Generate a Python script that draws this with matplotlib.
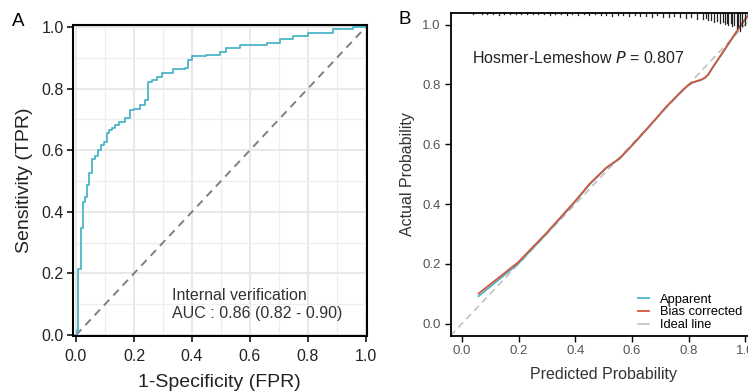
import matplotlib
matplotlib.use("Agg")
import matplotlib.pyplot as plt
from matplotlib.ticker import MultipleLocator

plt.rcParams['font.family'] = ['Liberation Sans', 'DejaVu Sans']

# ROC curve (panel A), step corners: fpr where tpr jumps, tpr after the jump
roc_fpr = [0.0, 0.002, 0.008, 0.017, 0.025, 0.031, 0.039, 0.046, 0.056, 0.066,
           0.075, 0.085, 0.097, 0.106, 0.115, 0.124, 0.134, 0.150, 0.169, 0.186,
           0.200, 0.220, 0.238, 0.249, 0.262, 0.278, 0.295, 0.335, 0.376, 0.387,
           0.399, 0.450, 0.497, 0.519, 0.566, 0.657, 0.703, 0.749, 0.801, 0.887,
           0.955, 1.0]
roc_tpr = [0.0, 0.016, 0.213, 0.347, 0.433, 0.449, 0.487, 0.525, 0.570, 0.581,
           0.600, 0.617, 0.628, 0.655, 0.665, 0.672, 0.680, 0.690, 0.703, 0.730,
           0.735, 0.745, 0.763, 0.822, 0.828, 0.836, 0.850, 0.862, 0.868, 0.893,
           0.906, 0.910, 0.920, 0.933, 0.942, 0.947, 0.960, 0.970, 0.981, 0.992,
           1.0, 1.0]
auc_text = "Internal verification\nAUC : 0.86 (0.82 - 0.90)"

# Calibration curves (panel B)
pred_bc = [0.059, 0.198, 0.298, 0.398, 0.451, 0.510, 0.557, 0.604, 0.663, 0.721,
           0.780, 0.798, 0.812, 0.827, 0.842, 0.857, 0.870, 0.885, 0.910, 0.945,
           0.980, 1.020]
act_bc = [0.101, 0.205, 0.303, 0.408, 0.468, 0.522, 0.553, 0.600, 0.662, 0.725,
          0.782, 0.797, 0.806, 0.811, 0.815, 0.822, 0.834, 0.857, 0.892, 0.942,
          0.992, 1.045]
pred_app = [0.059, 0.198, 0.298, 0.398, 0.451, 0.510, 0.557, 0.604, 0.663, 0.721,
            0.780, 0.798, 0.812, 0.827, 0.842, 0.857, 0.870, 0.885, 0.910, 0.945,
            0.980, 1.020]
act_app = [0.092, 0.200, 0.300, 0.406, 0.466, 0.521, 0.552, 0.599, 0.661, 0.724,
           0.781, 0.796, 0.805, 0.810, 0.814, 0.821, 0.833, 0.856, 0.891, 0.941,
           0.991, 1.044]
hl_p = 0.807

# rug of predicted probabilities along the top (position, spike length)
rug_x = [0.04, 0.07, 0.09, 0.11, 0.13, 0.15, 0.17, 0.19, 0.21, 0.23, 0.25, 0.27,
         0.29, 0.31, 0.33, 0.35, 0.37, 0.39, 0.41, 0.43, 0.45, 0.47, 0.49, 0.51,
         0.53, 0.55, 0.57, 0.59, 0.61, 0.63, 0.65, 0.67, 0.69, 0.71, 0.73, 0.75,
         0.77, 0.79, 0.81, 0.83, 0.85, 0.86, 0.87, 0.88, 0.89, 0.90, 0.91, 0.92,
         0.93, 0.935, 0.94, 0.95, 0.955, 0.96, 0.97, 0.975, 0.98, 0.99, 1.00, 1.01]
rug_len = [0.004, 0.004, 0.005, 0.004, 0.008, 0.004, 0.005, 0.004, 0.006, 0.004,
           0.005, 0.006, 0.004, 0.007, 0.005, 0.006, 0.008, 0.005, 0.007, 0.006,
           0.009, 0.006, 0.008, 0.007, 0.010, 0.008, 0.009, 0.011, 0.008, 0.012,
           0.010, 0.014, 0.009, 0.013, 0.015, 0.012, 0.016, 0.018, 0.014, 0.020,
           0.022, 0.018, 0.026, 0.024, 0.030, 0.028, 0.034, 0.030, 0.038, 0.033,
           0.042, 0.036, 0.045, 0.040, 0.052, 0.046, 0.060, 0.045, 0.040, 0.030]

ticks = [0.0, 0.2, 0.4, 0.6, 0.8, 1.0]
tick_labels = ["0.0", "0.2", "0.4", "0.6", "0.8", "1.0"]

teal = '#4BB4C8'
red = '#D4563E'

fig = plt.figure(figsize=(7.48, 3.92), dpi=100)

# ---------------- panel A: ROC ----------------
ax1 = fig.add_axes([0.0976, 0.1436, 0.3926, 0.7926])
ax1.set_xlim(-0.0103, 1.0024)
ax1.set_ylim(-0.002, 1.006)
ax1.xaxis.set_minor_locator(MultipleLocator(0.1))
ax1.yaxis.set_minor_locator(MultipleLocator(0.1))
ax1.grid(which='major', color='#E6E6E6', lw=1.3)
ax1.grid(which='minor', color='#EEEEEE', lw=0.9)
ax1.set_axisbelow(True)
ax1.plot([0, 1], [0, 1], color='#7F7F7F', lw=1.4, ls=(0, (4, 3)))
ax1.plot(roc_fpr, roc_tpr, drawstyle='steps-post', color=teal, lw=1.3)
ax1.set_xticks(ticks)
ax1.set_xticklabels(tick_labels)
ax1.set_yticks(ticks)
ax1.set_yticklabels(tick_labels)
ax1.tick_params(which='major', length=4.5, width=1.1, labelsize=11.5,
                labelcolor='#222222', pad=2)
ax1.tick_params(axis='x', which='major', pad=5)
ax1.tick_params(which='minor', length=0)
for s in ax1.spines.values():
    s.set_linewidth(1.5)
ax1.set_xlabel("1-Specificity (FPR)", fontsize=14, color='#222222', labelpad=7)
ax1.set_ylabel("Sensitivity (TPR)", fontsize=14, color='#222222', labelpad=6)
ax1.text(0.33, 0.10, auc_text, fontsize=11.5, color='#333333',
         va='center', ha='left', linespacing=1.25)
fig.text(0.016, 0.945, "A", fontsize=13.5, va='center', ha='left')

# ---------------- panel B: calibration ----------------
ax2 = fig.add_axes([0.6023, 0.1436, 0.4091, 0.824])
ax2.set_xlim(-0.04, 1.04)
ax2.set_ylim(-0.04, 1.04)
ax2.plot([-0.04, 1.04], [-0.04, 1.04], color='#BDBDBD', lw=1.1,
         ls=(0, (4.5, 3)), label='_ideal')
ax2.plot(pred_app, act_app, color=teal, lw=1.3, label='Apparent')
ax2.plot(pred_bc, act_bc, color=red, lw=1.3, label='Bias corrected')
ax2.plot([], [], color='#BDBDBD', lw=1.1, label='Ideal line')
for x, h in zip(rug_x, rug_len):
    ax2.plot([x, x], [1.04, 1.04 - h], color='#222222', lw=0.9, clip_on=False)
ax2.set_xticks(ticks)
ax2.set_xticklabels(tick_labels)
ax2.set_yticks(ticks)
ax2.set_yticklabels(tick_labels)
ax2.tick_params(length=4, width=1.0, labelsize=9.5, labelcolor='#555555', pad=3)
ax2.spines['right'].set_visible(False)
for s in ['left', 'bottom', 'top']:
    ax2.spines[s].set_linewidth(1.3)
ax2.set_xlabel("Predicted Probability", fontsize=11.5, color='#333333', labelpad=7)
ax2.set_ylabel("Actual Probability", fontsize=11.5, color='#333333', labelpad=5)
ax2.text(0.035, 0.887, "Hosmer-Lemeshow $\\it{P}$ = %.3f" % hl_p, fontsize=11.5,
         color='#222222', va='center', ha='left')
leg = ax2.legend(loc='lower left', bbox_to_anchor=(0.595, -0.0015), frameon=False,
                 fontsize=9.3, handlelength=0.9, handletextpad=0.8,
                 labelspacing=0.05, borderaxespad=0)
fig.text(0.533, 0.95, "B", fontsize=13.5, va='center', ha='left')

fig.savefig("out.png", dpi=100)
